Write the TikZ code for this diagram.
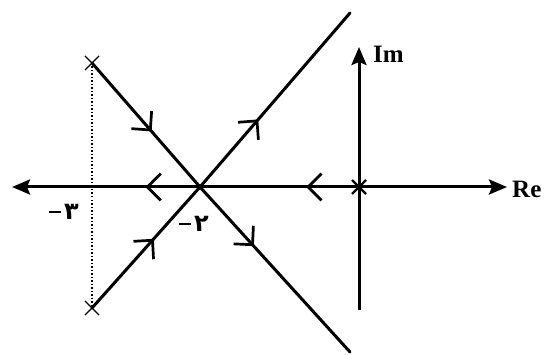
\documentclass[tikz,border=0pt]{standalone}
\usepackage{fontspec}
\setmainfont{Liberation Serif}
\newfontfamily\digitfont{DejaVu Sans}
\usetikzlibrary{arrows.meta,calc}
\tikzset{
  mainline/.style={line width=3pt,line cap=round},
  axisline/.style={line width=3pt,-{Stealth[length=18pt,width=15pt,inset=3pt]}},
  chev/.style={line width=2.7pt},
  polex/.style={line width=1.3pt},
  origx/.style={line width=2.4pt},
  dotline/.style={line width=1.5pt,dotted},
  axlabel/.style={font=\fontsize{25}{28}\selectfont\bfseries,inner sep=0pt},
  numlabel/.style={font=\digitfont\bfseries\fontsize{24}{28}\selectfont,inner sep=0pt}
}
\newcommand\chevmark[3]{%
  \coordinate (cm) at ($(#1)!#3!(#2)$);
  \draw[chev] ($(cm)!19pt!135:(#2)$) -- (cm) -- ($(cm)!19pt!-135:(#2)$);}
\newcommand\xmark[3]{%
  \draw[#3] ($(#1)+(-#2,-#2)$) -- ($(#1)+(#2,#2)$);
  \draw[#3] ($(#1)+(-#2,#2)$) -- ($(#1)+(#2,-#2)$);}
\newcommand\minusbar{\rule[7pt]{12pt}{1.6pt}\kern3pt}
\begin{document}
\begin{tikzpicture}[x=1pt,y=-1pt]
\useasboundingbox (0,0) rectangle (545,355);
% key points
\coordinate (P1) at (92,63);
\coordinate (P2) at (92,308);
\coordinate (O) at (359,187);
\coordinate (B) at (200,187);
\coordinate (E1) at (350,13);
\coordinate (E2) at (350,352);
\coordinate (L) at (12,187);
\coordinate (R) at (507,187);
\coordinate (Ibot) at (359,310);
\coordinate (Itop) at (359,47);
% axes
\draw[axisline] (O) -- (R);
\draw[mainline] (O) -- (B);
\draw[axisline] (B) -- (L);
\draw[axisline] (Ibot) -- (Itop);
\node[axlabel,anchor=west] (re) at (512,189) {Re};
\node[axlabel,anchor=west] (im) at (373,54) {Im};
% dotted line between poles
\draw[dotline] (P1) -- (P2);
% root locus branches
\draw[mainline] (P1) -- (B) -- (E2);
\draw[mainline] (P2) -- (B) -- (E1);
% direction chevrons
\chevmark{P1}{B}{0.54}
\chevmark{P2}{B}{0.56}
\chevmark{B}{E1}{0.38}
\chevmark{B}{E2}{0.35}
\chevmark{O}{B}{0.32}
\chevmark{B}{L}{0.28}
% poles
\xmark{P1}{7}{polex}
\xmark{P2}{7}{polex}
\xmark{O}{7}{origx}
% labels
\node[numlabel] (m3) at (64,212) {\minusbar ۳};
\node[numlabel] (m2) at (194,224) {\minusbar ۲};
\end{tikzpicture}
\end{document}
